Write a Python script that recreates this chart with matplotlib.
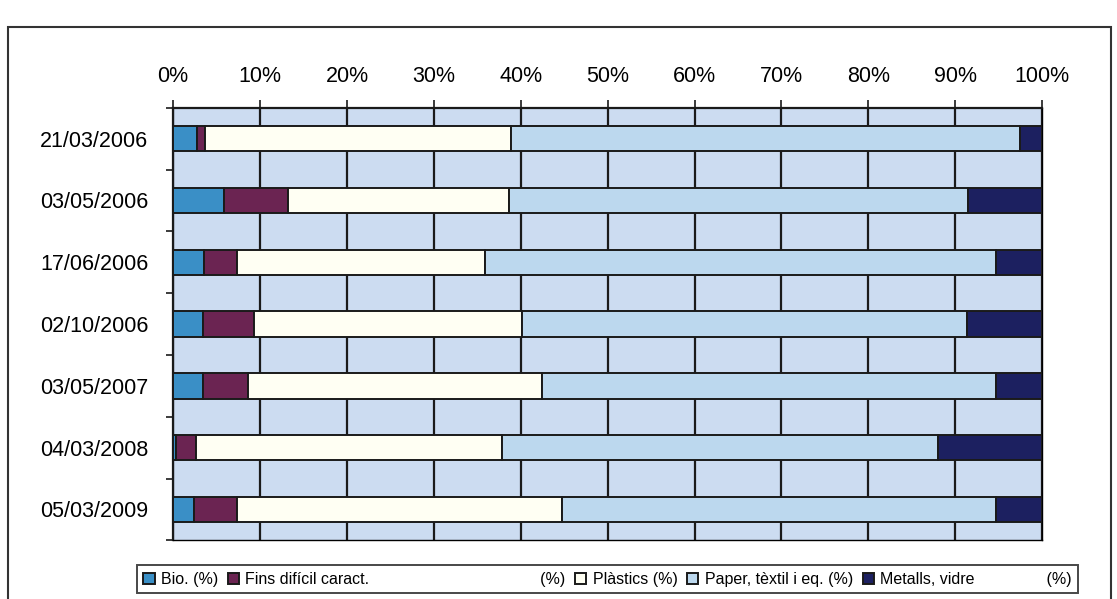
import numpy as np
import matplotlib
matplotlib.use("Agg")
import matplotlib.pyplot as plt
from matplotlib.patches import Rectangle

# DATA (percent of total per sampling date)
dates    = ["21/03/2006", "03/05/2006", "17/06/2006", "02/10/2006",
            "03/05/2007", "04/03/2008", "05/03/2009"]
bio      = [2.7, 5.9, 3.6, 3.4, 3.4, 0.3, 2.4]
fins     = [1.0, 7.3, 3.8, 5.9, 5.2, 2.3, 5.0]
plastics = [35.2, 25.4, 28.5, 30.9, 33.8, 35.3, 37.3]
paper    = [58.5, 52.9, 58.8, 51.2, 52.3, 50.1, 50.0]
metals   = [2.6, 8.5, 5.3, 8.6, 5.3, 12.0, 5.3]

labels = ["Bio. (%)", "Fins difícil caract." + " " * 38 + "(%)", "Plàstics (%)",
          "Paper, tèxtil i eq. (%)", "Metalls, vidre" + " " * 16 + "(%)"]
colors = ["#3a8fc6", "#6b2452", "#fffff3", "#bcd8ee", "#1c2060"]
xticks = [0, 10, 20, 30, 40, 50, 60, 70, 80, 90, 100]

plt.rcParams["font.family"] = ["Liberation Sans", "DejaVu Sans"]

fig = plt.figure(figsize=(11.17, 5.99), dpi=100)
ax = fig.add_axes([0.155, 0.098, 0.778, 0.722])
ax.set_facecolor("#ccdcf1")

series = [bio, fins, plastics, paper, metals]
y = np.arange(len(dates))
left = np.zeros(len(dates))
handles = []
for vals, col, lab in zip(series, colors, labels):
    vals = np.array(vals)
    h = ax.barh(y, vals, left=left, height=0.41, color=col,
                edgecolor="#1a1a1a", linewidth=1.4, label=lab, zorder=3)
    handles.append(h)
    left += vals

ax.set_xlim(0, 100)
ax.set_ylim(len(dates) - 0.5, -0.5)
ax.xaxis.tick_top()
ax.set_xticks(xticks)
ax.set_xticklabels([f"{t}%" for t in xticks], fontsize=15.5)
ax.tick_params(axis="x", length=6, width=1.2, pad=9, color="#1a1a1a")
ax.set_yticks(y)
ax.set_yticklabels(dates, fontsize=15.5)
ax.set_yticks(np.arange(-0.5, len(dates)), minor=True)
ax.tick_params(axis="y", which="major", length=0, pad=18)
ax.tick_params(axis="y", which="minor", length=5, width=1.2, color="#1a1a1a")
ax.grid(axis="x", color="#1a1a1a", linewidth=1.6, zorder=1)
ax.set_axisbelow(True)
for s in ["left", "top"]:
    ax.spines[s].set_linewidth(1.6)
    ax.spines[s].set_color("#1a1a1a")
ax.spines["right"].set_linewidth(1.0)
ax.spines["bottom"].set_linewidth(1.0)

leg = fig.legend(handles=handles, loc="center", bbox_to_anchor=(0.544, 0.033),
                 ncol=5, fontsize=11.5, frameon=True, fancybox=False,
                 edgecolor="#1a1a1a", handlelength=0.7, handleheight=0.7,
                 handletextpad=0.4, columnspacing=0.6, borderpad=0.4)
leg.get_frame().set_linewidth(1.4)

# outer chart frame
fig.patches.append(Rectangle((0.007, -0.05), 0.988, 1.005, transform=fig.transFigure,
                             fill=False, edgecolor="#333333", linewidth=1.5))

fig.savefig("out.png", dpi=100, facecolor="white")
